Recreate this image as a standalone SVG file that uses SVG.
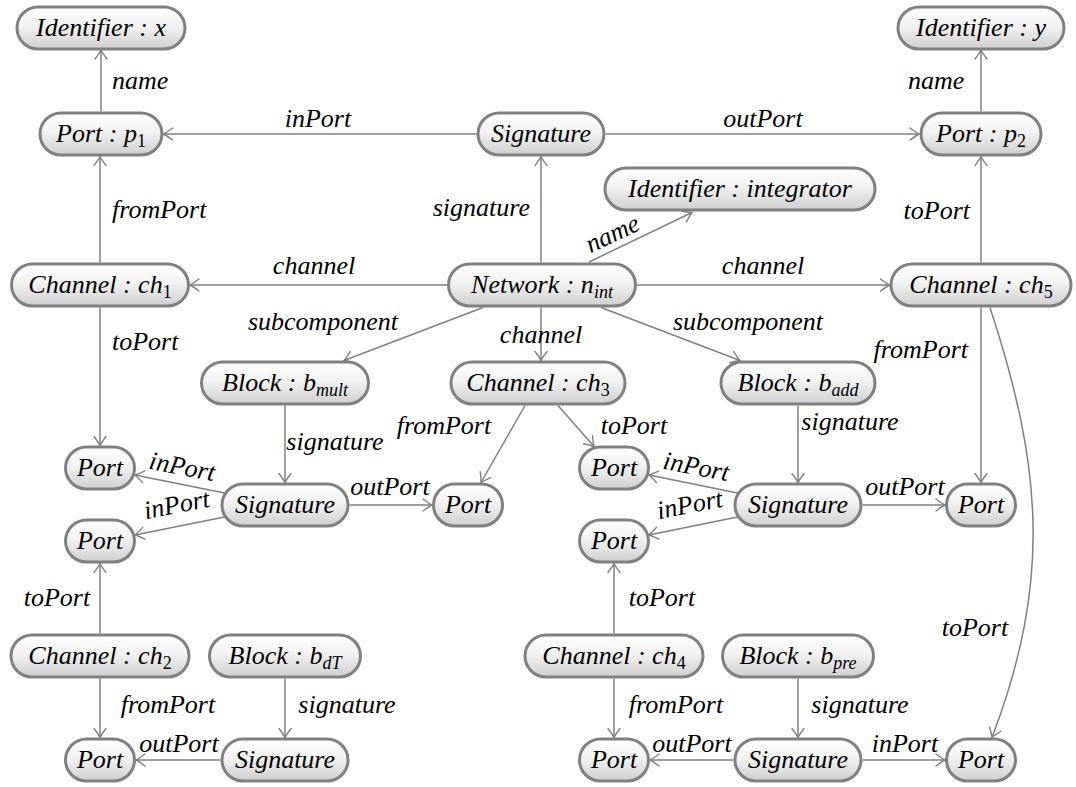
<svg xmlns="http://www.w3.org/2000/svg" width="1076" height="787" viewBox="0 0 1076 787">
  <defs>
    <linearGradient id="shade" x1="0" y1="0" x2="0" y2="1">
      <stop offset="0" stop-color="#ffffff"/>
      <stop offset="0.45" stop-color="#f2f2f2"/>
      <stop offset="1" stop-color="#cfcfcf"/>
    </linearGradient>
    <marker id="tip" viewBox="-10 -7 12 14" markerWidth="12" markerHeight="14" refX="0" refY="0" orient="auto" markerUnits="userSpaceOnUse">
      <path d="M-9,-6 Q-3,-1.5 0,0 Q-3,1.5 -9,6" fill="none" stroke="#808080" stroke-width="1.4" stroke-linecap="round"/>
    </marker>
  </defs>
  <style>
    text { font-family: 'Liberation Serif', 'Times New Roman', serif; font-style: italic; font-size: 26px; fill: #000; }
    .node rect { fill: url(#shade); stroke: #808080; stroke-width: 3; }
    .node text { text-anchor: middle; }
    .m { text-anchor: middle; }
    .e { text-anchor: end; }
    .sub { font-size: 18px; }
    .num { font-style: normal; }
    .edges path { fill: none; stroke: #808080; stroke-width: 1.5; marker-end: url(#tip); }
  </style>

  <rect width="1076" height="787" fill="#ffffff"/>

  <!-- connectors -->
  <g id="connectors" class="edges">
    <path d="M101,111.5 V50"/>
    <path d="M476.5,134 H163.5"/>
    <path d="M605.5,134 H919"/>
    <path d="M981,111.5 V50"/>
    <path d="M100,262.5 V156.5"/>
    <path d="M541,262.5 V156.5"/>
    <path d="M981,262.5 V156.5"/>
    <path d="M589,262 L692,212.5"/>
    <path d="M447,285 H190"/>
    <path d="M637,285 H889.5"/>
    <path d="M483,307.5 L344,360.5"/>
    <path d="M541,307.5 V360.5"/>
    <path d="M601,307.5 L740,360.5"/>
    <path d="M100,307.5 V445.5"/>
    <path d="M981,307.5 V482.5"/>
    <path d="M990,307.5 C1042,466 1052,580 992,737.5"/>
    <path d="M285,405.5 V482.5"/>
    <path d="M798,405.5 V482.5"/>
    <path d="M525,405.5 L481,482.5"/>
    <path d="M558,405.5 L594,446.5"/>
    <path d="M224.5,492.9 L134.9,475"/>
    <path d="M224.5,517.1 L134.9,535"/>
    <path d="M349.5,505 H432"/>
    <path d="M737.5,492.9 L648.9,475"/>
    <path d="M737.5,517.1 L648.9,535"/>
    <path d="M862.5,505 H945"/>
    <path d="M100,633.5 V563.5"/>
    <path d="M614,633.5 V563.5"/>
    <path d="M100,678.5 V737.5"/>
    <path d="M285,678.5 V737.5"/>
    <path d="M220.5,760 H136"/>
    <path d="M614,678.5 V737.5"/>
    <path d="M798,678.5 V737.5"/>
    <path d="M733.5,760 H650"/>
    <path d="M862.5,760 H945"/>
  </g>

  <!-- connector labels -->
  <g id="labels">
    <text x="112" y="89">name</text>
    <text class="m" x="318" y="127">inPort</text>
    <text class="m" x="763" y="127">outPort</text>
    <text x="908" y="89">name</text>
    <text x="112" y="218">fromPort</text>
    <text class="e" x="530" y="216">signature</text>
    <text class="e" x="970" y="219">toPort</text>
    <text class="m" x="613" y="242" transform="rotate(-25 613 235)">name</text>
    <text class="m" x="314" y="274">channel</text>
    <text class="m" x="763" y="274">channel</text>
    <text class="m" x="323" y="330">subcomponent</text>
    <text class="m" x="541" y="343">channel</text>
    <text class="m" x="748" y="330">subcomponent</text>
    <text x="112" y="350">toPort</text>
    <text class="e" x="968" y="358">fromPort</text>
    <text class="m" x="444" y="434">fromPort</text>
    <text class="m" x="634" y="434">toPort</text>
    <text class="m" x="335" y="450">signature</text>
    <text class="m" x="850" y="430">signature</text>
    <text class="m" x="182" y="475" transform="rotate(11 182 468)">inPort</text>
    <text class="m" x="177" y="513" transform="rotate(-11 177 506)">inPort</text>
    <text class="m" x="390" y="495">outPort</text>
    <text class="m" x="696" y="475" transform="rotate(11 696 468)">inPort</text>
    <text class="m" x="690" y="513" transform="rotate(-11 690 506)">inPort</text>
    <text class="m" x="905" y="495">outPort</text>
    <text class="m" x="57" y="606">toPort</text>
    <text class="m" x="662" y="606">toPort</text>
    <text class="m" x="975" y="636">toPort</text>
    <text class="m" x="168" y="713">fromPort</text>
    <text class="m" x="347" y="713">signature</text>
    <text class="m" x="676" y="713">fromPort</text>
    <text class="m" x="860" y="713">signature</text>
    <text class="m" x="179" y="752">outPort</text>
    <text class="m" x="692" y="752">outPort</text>
    <text class="m" x="905" y="752">inPort</text>
  </g>

  <!-- nodes -->
  <g id="id-x" class="node"><rect x="17" y="7" width="168" height="42" rx="21"/><text x="101" y="36">Identifier : x</text></g>
  <g id="port-p1" class="node"><rect x="40" y="113" width="122" height="42" rx="21"/><text x="101" y="142">Port : p<tspan class="sub num" dy="5">1</tspan></text></g>
  <g id="signature-top" class="node"><rect x="478" y="113" width="126" height="42" rx="21"/><text x="541" y="142">Signature</text></g>
  <g id="port-p2" class="node"><rect x="921" y="113" width="120" height="42" rx="21"/><text x="981" y="142">Port : p<tspan class="sub num" dy="5">2</tspan></text></g>
  <g id="id-y" class="node"><rect x="898" y="7" width="166" height="42" rx="21"/><text x="981" y="36">Identifier : y</text></g>
  <g id="id-integrator" class="node"><rect x="605" y="168" width="270" height="42" rx="21"/><text x="740" y="197">Identifier : integrator</text></g>
  <g id="network" class="node"><rect x="448.5" y="264" width="187" height="42" rx="21"/><text x="542" y="293">Network : n<tspan class="sub" dy="5">int</tspan></text></g>
  <g id="channel-ch1" class="node"><rect x="11.5" y="264" width="177" height="42" rx="21"/><text x="100" y="293">Channel : ch<tspan class="sub num" dy="5">1</tspan></text></g>
  <g id="channel-ch5" class="node"><rect x="891" y="264" width="180" height="42" rx="21"/><text x="981" y="293">Channel : ch<tspan class="sub num" dy="5">5</tspan></text></g>
  <g id="block-mult" class="node"><rect x="201.5" y="362" width="167" height="42" rx="21"/><text x="285" y="391">Block : b<tspan class="sub" dy="5">mult</tspan></text></g>
  <g id="channel-ch3" class="node"><rect x="451" y="362" width="174" height="42" rx="21"/><text x="538" y="391">Channel : ch<tspan class="sub num" dy="5">3</tspan></text></g>
  <g id="block-add" class="node"><rect x="721" y="362" width="154" height="42" rx="21"/><text x="798" y="391">Block : b<tspan class="sub" dy="5">add</tspan></text></g>
  <g id="port-l1" class="node"><rect x="65.5" y="447" width="69" height="42" rx="21"/><text x="100" y="476">Port</text></g>
  <g id="signature-l" class="node"><rect x="222" y="484" width="126" height="42" rx="21"/><text x="285" y="513">Signature</text></g>
  <g id="port-lm" class="node"><rect x="433.5" y="484" width="69" height="42" rx="21"/><text x="468" y="513">Port</text></g>
  <g id="port-l2" class="node"><rect x="65.5" y="520" width="69" height="42" rx="21"/><text x="100" y="549">Port</text></g>
  <g id="port-r1" class="node"><rect x="579.5" y="447" width="69" height="42" rx="21"/><text x="614" y="476">Port</text></g>
  <g id="signature-r" class="node"><rect x="735" y="484" width="126" height="42" rx="21"/><text x="798" y="513">Signature</text></g>
  <g id="port-rm" class="node"><rect x="946.5" y="484" width="69" height="42" rx="21"/><text x="981" y="513">Port</text></g>
  <g id="port-r2" class="node"><rect x="579.5" y="520" width="69" height="42" rx="21"/><text x="614" y="549">Port</text></g>
  <g id="channel-ch2" class="node"><rect x="11" y="635" width="178" height="42" rx="21"/><text x="100" y="664">Channel : ch<tspan class="sub num" dy="5">2</tspan></text></g>
  <g id="block-dT" class="node"><rect x="209.5" y="635" width="151" height="42" rx="21"/><text x="285" y="664">Block : b<tspan class="sub" dy="5">dT</tspan></text></g>
  <g id="port-b1" class="node"><rect x="65.5" y="739" width="69" height="42" rx="21"/><text x="100" y="768">Port</text></g>
  <g id="signature-b1" class="node"><rect x="222" y="739" width="126" height="42" rx="21"/><text x="285" y="768">Signature</text></g>
  <g id="channel-ch4" class="node"><rect x="525" y="635" width="178" height="42" rx="21"/><text x="614" y="664">Channel : ch<tspan class="sub num" dy="5">4</tspan></text></g>
  <g id="block-pre" class="node"><rect x="722.5" y="635" width="151" height="42" rx="21"/><text x="798" y="664">Block : b<tspan class="sub" dy="5">pre</tspan></text></g>
  <g id="port-b2" class="node"><rect x="579.5" y="739" width="69" height="42" rx="21"/><text x="614" y="768">Port</text></g>
  <g id="signature-b2" class="node"><rect x="735" y="739" width="126" height="42" rx="21"/><text x="798" y="768">Signature</text></g>
  <g id="port-b3" class="node"><rect x="946.5" y="739" width="69" height="42" rx="21"/><text x="981" y="768">Port</text></g>
</svg>
